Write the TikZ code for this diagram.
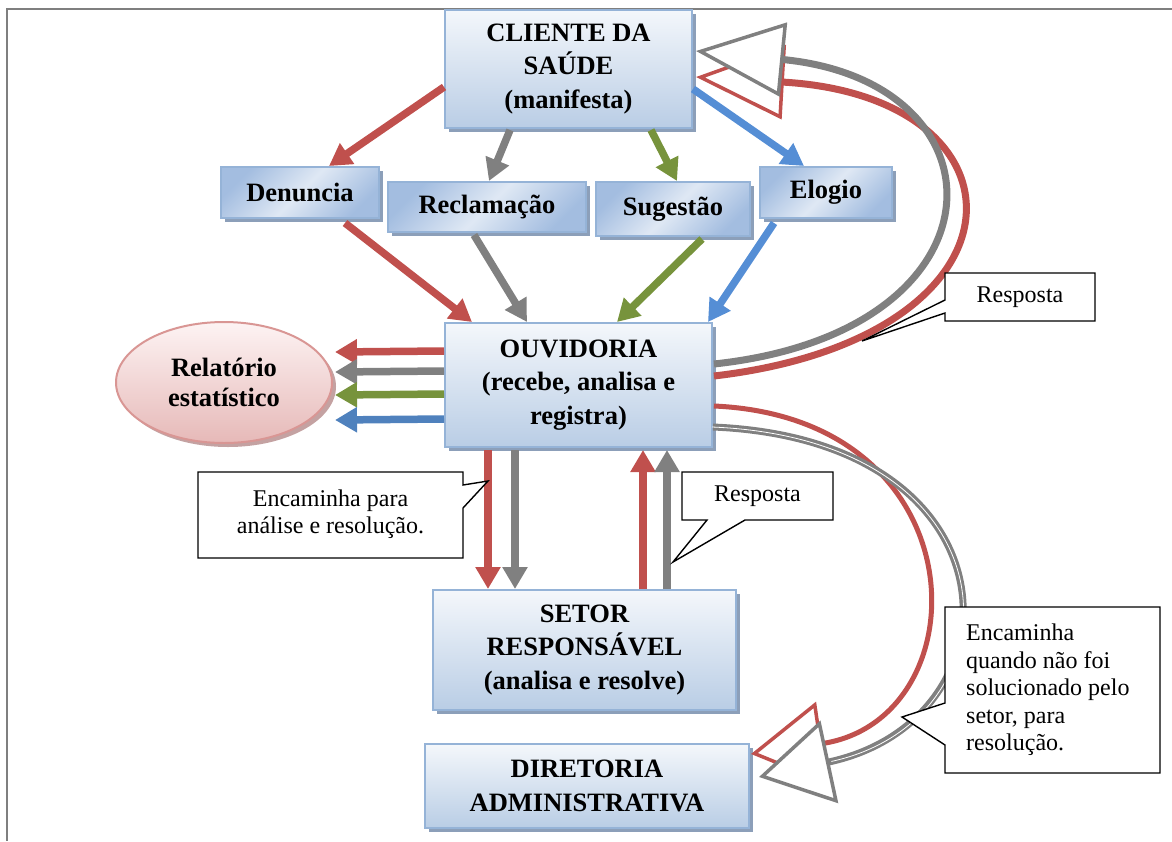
\documentclass[tikz,border=0pt]{standalone}
\usepackage{fontspec}
\setmainfont{Liberation Serif}
\usetikzlibrary{arrows.meta,shadows,calc,shapes.geometric}

\definecolor{cred}{HTML}{C0504D}
\definecolor{cgray}{HTML}{808080}
\definecolor{cgreen}{HTML}{77933C}
\definecolor{cblue}{HTML}{558ED5}
\definecolor{cbluetwo}{HTML}{4F81BD}
\definecolor{bxborder}{HTML}{95B3D7}
\definecolor{bxtop}{HTML}{F4F7FB}
\definecolor{bxbot}{HTML}{B9CDE5}
\definecolor{bxshadow}{HTML}{8C9FB9}
\definecolor{smdark}{HTML}{A3BDE0}
\definecolor{smlight}{HTML}{DFE8F4}
\definecolor{eltop}{HTML}{FDF3F3}
\definecolor{elbot}{HTML}{E6B9B8}
\definecolor{elborder}{HTML}{D99694}
\definecolor{elshadow}{HTML}{C4A2A2}
\definecolor{framegray}{HTML}{7F7F7F}

\begin{document}
\begin{tikzpicture}[x=1pt,y=-1pt,
  boxfont/.style={font=\bfseries\fontsize{26.5}{33.5}\selectfont},
  calfont/.style={font=\fontsize{24}{27.5}\selectfont},
  bigbox/.style={boxfont, draw=bxborder, line width=2pt, top color=bxtop, bottom color=bxbot,
    drop shadow={shadow xshift=4pt, shadow yshift=-4pt, fill=bxshadow, opacity=1},
    align=center, inner sep=0pt},
  smallbox/.style={boxfont, draw=bxborder, line width=2pt, left color=smdark, right color=smdark,
    middle color=smlight, shading angle=45,
    drop shadow={shadow xshift=4pt, shadow yshift=-4pt, fill=bxshadow, opacity=1},
    align=center, inner sep=0pt},
  ellbox/.style={font=\bfseries\fontsize{26.5}{30}\selectfont, ellipse, draw=elborder, line width=2pt,
    top color=eltop, bottom color=elbot,
    drop shadow={shadow xshift=4pt, shadow yshift=-4pt, fill=elshadow, opacity=1},
    align=center, inner sep=0pt},
  flowarrow/.style={line width=7.5pt, -{Triangle[length=22pt, width=24pt]}},
  bigcurve/.style={line width=7pt, -{Triangle[fill=white, length=88pt, width=74pt, line width=3.5pt]}},
  lowcurve/.style={line width=6pt, -{Triangle[fill=white, length=72pt, width=84pt, line width=3.5pt]}},
  calloutline/.style={draw=black, line width=1.4pt, fill=white, line join=miter},
  caltext/.style={calfont, align=center, inner sep=0pt}
]
\useasboundingbox (0,0) rectangle (1172,841);

% frame
\draw[framegray, line width=2pt] (6,9) -- (1172,9);
\draw[framegray, line width=2pt] (7,9) -- (7,841);

% nodes
\node[bigbox, minimum width=247pt, minimum height=118pt] (cli) at (568.5,69) {CLIENTE DA\\SAÚDE\\(manifesta)};
\node[smallbox, minimum width=158pt, minimum height=51pt] (den) at (300,192.5) {Denuncia};
\node[smallbox, minimum width=198pt, minimum height=50pt] (rec) at (487,207) {Reclamação};
\node[smallbox, minimum width=154pt, minimum height=54pt] (sug) at (673,209) {Sugestão};
\node[smallbox, minimum width=132pt, minimum height=51pt] (elo) at (826,192.5) {Elogio};
\node[bigbox, minimum width=267pt, minimum height=124pt] (ouv) at (578.5,385) {OUVIDORIA\\(recebe, analisa e\\registra)};
\node[bigbox, minimum width=303pt, minimum height=120pt] (set) at (584.5,650) {SETOR\\RESPONSÁVEL\\(analisa e resolve)};
\node[bigbox, minimum width=324pt, minimum height=84pt] (dir) at (587,786) {DIRETORIA\\ADMINISTRATIVA};
\node[ellbox, minimum width=216pt, minimum height=121pt] (rel) at (224,382.5) {Relatório\\estatístico};

% client to categories
\draw[flowarrow, cred]   ($(cli.north west)+(0,78)$)  -- ($(den.north west)+(109,0)$);
\draw[flowarrow, cgray]  ($(cli.south west)+(66,1)$)  -- ($(rec.north west)+(102,0)$);
\draw[flowarrow, cgreen] ($(cli.south west)+(207,1)$) -- ($(sug.north west)+(82,0)$);
\draw[flowarrow, cblue]  ($(cli.north east)+(0,80)$)  -- ($(elo.north west)+(45,0)$);

% categories to ouvidoria
\draw[flowarrow, cred]   ($(den.south west)+(125,4)$) -- ($(ouv.north west)+(28,0)$);
\draw[flowarrow, cgray]  ($(rec.south west)+(87,2)$)  -- ($(ouv.north west)+(83,0)$);
\draw[flowarrow, cgreen] ($(sug.south west)+(107,2)$) -- ($(ouv.north west)+(173,0)$);
\draw[flowarrow, cblue]  ($(elo.south west)+(15,4)$)  -- ($(ouv.north east)+(-5,0)$);

% ouvidoria to relatorio
\draw[flowarrow, cred]      ($(ouv.north west)+(0,29)$) -- ($(rel.east)+(2,-30.5)$);
\draw[flowarrow, cgray]     ($(ouv.north west)+(0,49)$) -- ($(rel.east)+(2,-10.5)$);
\draw[flowarrow, cgreen]    ($(ouv.north west)+(0,72)$) -- ($(rel.east)+(2,12.5)$);
\draw[flowarrow, cbluetwo]  ($(ouv.north west)+(0,97)$) -- ($(rel.east)+(2,37.5)$);

% ouvidoria <-> setor
\draw[flowarrow, cred]  ($(ouv.south west)+(44,2)$)  -- ($(set.north west)+(56,0)$);
\draw[flowarrow, cgray] ($(ouv.south west)+(71,2)$)  -- ($(set.north west)+(83,0)$);
\draw[flowarrow, cred]  ($(set.north west)+(211,0)$) -- ($(ouv.south west)+(199,2)$);
\draw[flowarrow, cgray] ($(set.north west)+(235,0)$) -- ($(ouv.south west)+(223,2)$);

% big curves: ouvidoria -> cliente
\draw[bigcurve, cred]  ($(ouv.north east)+(1,54)$) .. controls (1038,338) and (1038,97) .. ($(cli.north east)+(3,68)$);
\draw[bigcurve, cgray] ($(ouv.north east)+(1,42)$) .. controls (1012,332) and (1012,82) .. ($(cli.north east)+(3,42)$);

% big curves: ouvidoria -> diretoria
\draw[lowcurve, cred, line width=5pt] ($(ouv.north east)+(1,84)$) .. controls (983,418) and (983,720) .. ($(dir.north east)+(1,11)$);
\draw[lowcurve, cgray, line width=7pt]
  ($(ouv.north east)+(0,105)$) .. controls (1024,440) and (1024,720) .. ($(dir.north east)+(9,34)$);
\draw[white, line width=0.8pt, shorten >=74pt]
  ($(ouv.north east)+(-1,105)$) .. controls (1024,440) and (1024,720) .. ($(dir.north east)+(9,34)$);

% callouts
\coordinate (tipA) at (862,341);
\draw[calloutline] (945,273) -- (1095,273) -- (1095,321) -- (945,321) -- (945,313) -- (tipA) -- (945,300) -- cycle;
\node[caltext] (calA) at (1020,297) {Resposta};

\coordinate (tipB) at (488,481);
\draw[calloutline] (198,472) -- (463,472) -- (463,485) -- (tipB) -- (463,508) -- (463,558) -- (198,558) -- cycle;
\node[caltext] (calB) at (330.5,514) {Encaminha para\\análise e resolução.};

\coordinate (tipC) at (673,562);
\draw[calloutline] (682,472) -- (833,472) -- (833,520) -- (745,520) -- (tipC) -- (707,520) -- (682,520) -- cycle;
\node[caltext] (calC) at (757.5,496) {Resposta};

\coordinate (tipD) at (902,717);
\draw[calloutline] (945,607) -- (1160,607) -- (1160,773) -- (945,773) -- (945,745) -- (tipD) -- (945,703) -- cycle;
\node[calfont, align=left, inner sep=0pt, anchor=north west] (calD) at (966,624) {Encaminha\\quando não foi\\solucionado pelo\\setor, para\\resolução.};

\end{tikzpicture}
\end{document}
